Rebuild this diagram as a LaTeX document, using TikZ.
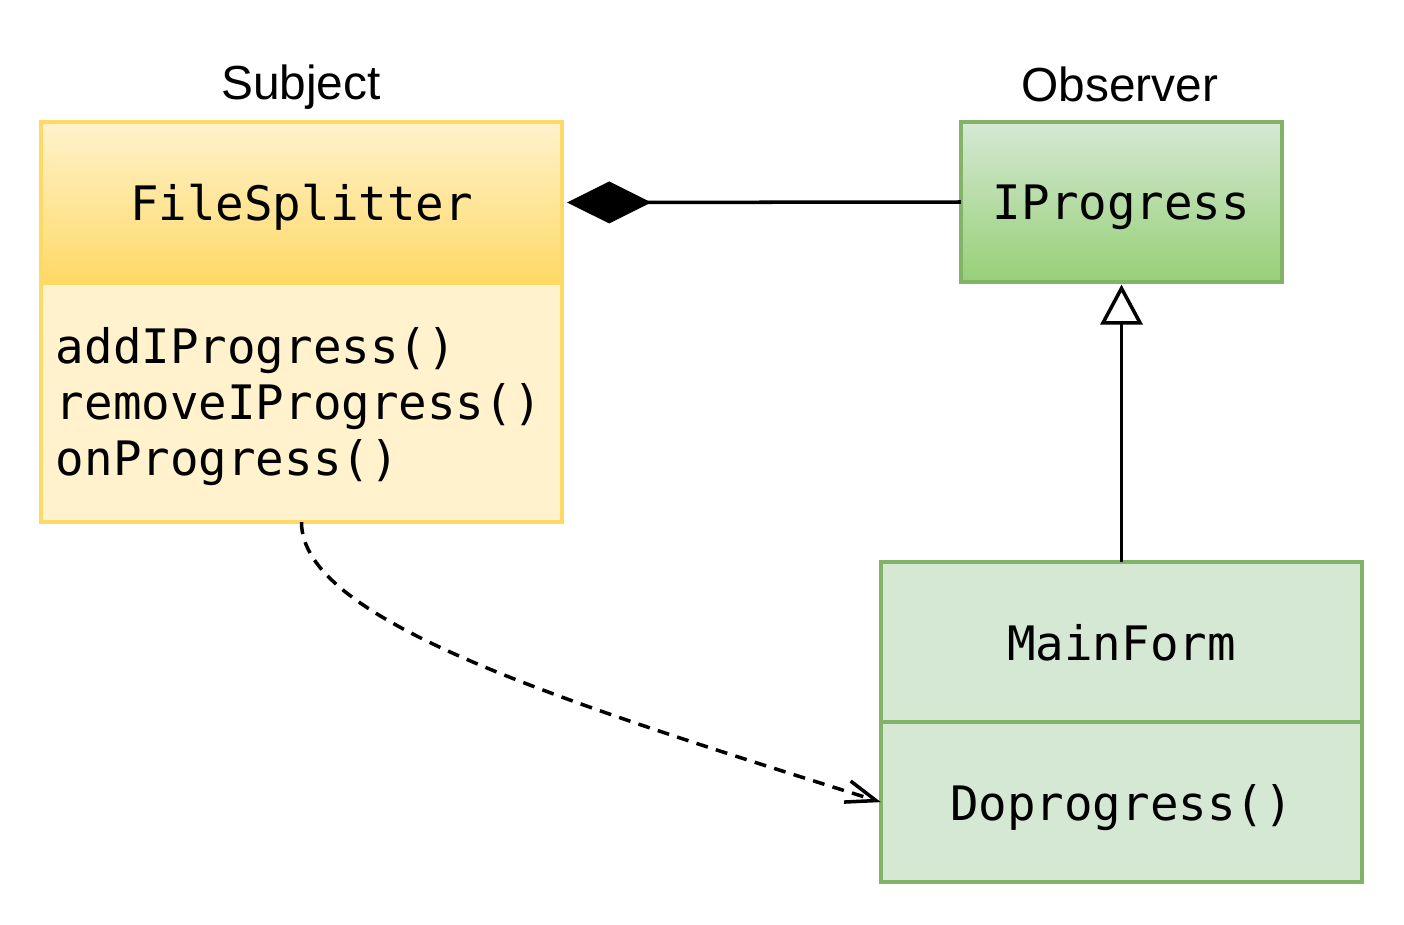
\documentclass[tikz,border=0pt]{standalone}
\usepackage{fontspec}
\setmainfont{Liberation Sans}
\setmonofont{DejaVu Sans Mono}
\usepackage{tikz}
\usetikzlibrary{arrows.meta,calc,positioning}
\definecolor{fsyellow}{HTML}{FFD966}
\definecolor{fslight}{HTML}{FFF2CC}
\definecolor{obgreen}{HTML}{82B366}
\definecolor{oblight}{HTML}{D5E8D4}
\definecolor{obmid}{HTML}{97D077}
\tikzset{
  uml schemes/.style = {
    x = 0.01cm, y = -0.01cm,
    line width    = 1pt,
    node distance = 0mm,
    % Ячейка класса
    cls/.style  = {
      draw, outer sep=0pt, inner sep=0pt, text depth=0pt,
      font=\ttfamily\fontsize{13.5}{16}\selectfont
    },
    ycls/.style = { cls, draw=fsyellow, minimum width=5.21cm },
    gcls/.style = { cls, draw=obgreen },
    % Подписи
    lbl/.style  = { font=\rmfamily\fontsize{13.6}{16}\selectfont, inner sep=0pt },
    % Линии, стрелки
    compo line/.style   = {-{Diamond[length=0.84cm, width=0.42cm]}, shorten >=0.05cm},
    inherit line/.style = {-{Triangle[open, fill=white, length=0.4cm, width=0.42cm]},
                           shorten >=0.025cm},
    depend line/.style  = {-{Straight Barb[length=0.3cm, width=0.22cm]},
                           dash pattern=on 3.4pt off 2.4pt},
  }
}
\begin{document}
\begin{tikzpicture}[uml schemes]
  \useasboundingbox (0,0) rectangle (1404,924);

  % Subject
  \node[ycls, minimum height=1.61cm, top color=fslight, bottom color=fsyellow]
    (fsHead) at (301.5,202.5) {FileSplitter};
  \node[ycls, minimum height=2.39cm, fill=fslight, below=of fsHead] (fsBody) {};
  \node[cls, draw=none, align=left, anchor=west, text depth=]
    (fsMeth) at ($(fsBody.west)+(15,4)$) {addIProgress()\\removeIProgress()\\onProgress()};
  \node[lbl] (subjLbl) at (301,87) {Subject};

  % Observer
  \node[gcls, minimum width=3.21cm, minimum height=1.6cm, top color=oblight, bottom color=obmid]
    (obIface) at (1121.5,202) {IProgress};
  \node[lbl] (obsLbl) at (1120,84) {Observer};

  % MainForm
  \node[gcls, minimum width=4.81cm, minimum height=1.6cm, fill=oblight]
    (mfHead) at (1121.5,642) {MainForm};
  \node[gcls, minimum width=4.81cm, minimum height=1.6cm, fill=oblight, below=of mfHead]
    (mfBody) {Doprogress()};

  \draw[compo line]   (obIface.west) -- (fsHead.east);
  \draw[inherit line] (mfHead.north) -- (obIface.south);
  \draw[depend line]  (fsBody.south) .. controls +(0,98) and +(-321,-101) .. (mfBody.west);

\end{tikzpicture}
\end{document}
